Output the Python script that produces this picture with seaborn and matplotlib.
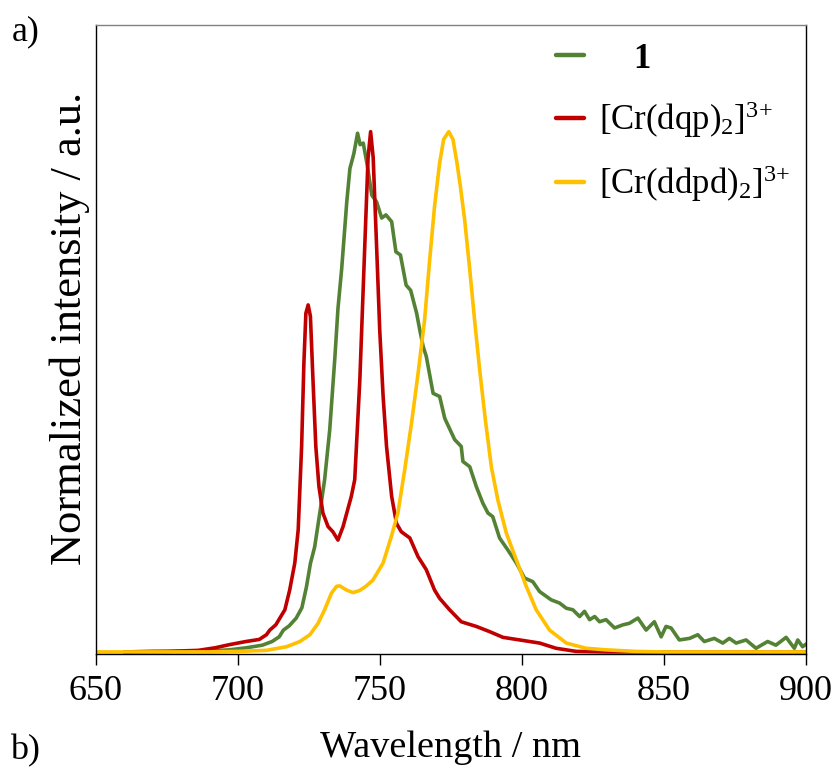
import numpy as np
import pandas as pd
import matplotlib
matplotlib.use("Agg")
import matplotlib.pyplot as plt
import seaborn as sns

# ---- data ----
wl_1 = [660, 670, 680, 690, 696.9, 703, 708.6, 712, 714.5, 716, 718, 720.5, 722.5, 724.1,
        725.5, 727.0, 728.8, 730.5, 732.3, 734.1, 735.2, 736.5, 738.3, 739.4, 740.8, 742.1,
        743.0, 744.1, 745.5, 747.1, 748.8, 750.6, 752.1, 754.1, 755.6, 757.2, 759.2, 760.8,
        762.9, 764.0, 765.2, 766.3, 768.7, 771.0, 772.8, 776.3, 778.6, 779.2, 781.6, 783.9,
        786.2, 788.0, 789.7, 792.1, 795.0, 798.0, 800.9, 803.8, 806.2, 810.3, 813.2, 815.6,
        817.9, 820.3, 822.0, 823.8, 825.6, 827.3, 829.6, 832.6, 835.5, 837.8, 840.8, 843.7,
        846.6, 849.0, 850.7, 852.5, 855.4, 859.0, 861.9, 864.2, 867.7, 870.7, 873.0, 875.4,
        878.9, 882.4, 886.5, 889.4, 893.0, 895.9, 897.1, 898.8, 900]
int_1 = [0, 0.001, 0.001, 0.002, 0.004, 0.008, 0.013, 0.02, 0.029, 0.042, 0.05, 0.065, 0.085, 0.125,
         0.17, 0.202, 0.267, 0.331, 0.427, 0.565, 0.66, 0.736, 0.865, 0.929, 0.958, 0.997,
         0.975, 0.978, 0.936, 0.878, 0.865, 0.834, 0.840, 0.827, 0.769, 0.763, 0.705, 0.695,
         0.651, 0.619, 0.587, 0.568, 0.497, 0.491, 0.449, 0.408, 0.395, 0.366, 0.356, 0.318,
         0.286, 0.267, 0.260, 0.219, 0.196, 0.171, 0.142, 0.135, 0.116, 0.100, 0.094, 0.084,
         0.081, 0.068, 0.078, 0.062, 0.068, 0.058, 0.062, 0.046, 0.052, 0.055, 0.065, 0.042,
         0.058, 0.029, 0.049, 0.046, 0.023, 0.026, 0.033, 0.020, 0.026, 0.017, 0.026, 0.017,
         0.023, 0.007, 0.020, 0.013, 0.028, 0.007, 0.023, 0.010, 0.015]

wl_dqp = [660, 675, 686, 692, 697, 702.8, 707.5, 710, 711.2, 713.3, 716.5, 718.2, 720.0, 721.2,
          722.4, 723.2, 723.9, 724.7, 725.5, 726.4, 727.4, 728.5, 729.9, 731.7, 733.4, 735.2,
          737.0, 739.9, 741.1, 742.9, 744.5, 745.8, 746.7, 747.6, 748.8, 749.9, 751.1, 752.3,
          754.1, 755.8, 757.5, 760.5, 763.4, 766.3, 769.2, 771.0, 774.5, 778.6, 783.9, 788.6,
          793.3, 799.2, 806.2, 812.0, 819.1, 830, 900]
int_dqp = [0, 0.001, 0.003, 0.008, 0.014, 0.020, 0.024, 0.033, 0.042, 0.052, 0.081, 0.119, 0.171, 0.235,
           0.395, 0.555, 0.651, 0.667, 0.645, 0.523, 0.395, 0.318, 0.267, 0.241, 0.231, 0.215,
           0.241, 0.299, 0.331, 0.523, 0.76, 0.95, 1.0, 0.95, 0.78, 0.619, 0.491, 0.395,
           0.299, 0.247, 0.231, 0.219, 0.183, 0.158, 0.119, 0.103, 0.081, 0.058, 0.049, 0.039,
           0.028, 0.023, 0.017, 0.007, 0.001, 0, 0]

wl_ddpd = [650, 690, 700, 710, 717.1, 721.8, 725.3, 728.2, 730.5, 732.9, 734.7, 735.8, 738.2,
           740.5, 742.8, 745, 747.5, 751.1, 754.0, 756.3, 758.7, 761.1, 763.4, 765.7, 767.5,
           769.2, 771.0, 772.4, 774.2, 775.7, 777.1, 778.3, 779.8, 781.6, 783.3, 785.1, 787.1,
           789.2, 791.5, 794.5, 798.0, 801.5, 805.0, 809.7, 815.6, 822.6, 829.6, 840, 850, 900]
int_ddpd = [0, 0.0, 0.001, 0.003, 0.010, 0.020, 0.033, 0.055, 0.081, 0.113, 0.126, 0.127, 0.119,
            0.114, 0.118, 0.126, 0.138, 0.171, 0.222, 0.267, 0.350, 0.440, 0.535, 0.638, 0.754,
            0.856, 0.940, 0.985, 1.0, 0.985, 0.940, 0.895, 0.831, 0.735, 0.638, 0.542, 0.446,
            0.356, 0.292, 0.228, 0.177, 0.126, 0.081, 0.042, 0.017, 0.007, 0.004, 0.001, 0, 0]

labels = ["    1", r"[Cr(dqp)$_2$]$^{3\!+}$", r"[Cr(ddpd)$_2$]$^{3\!+}$"]
colors = ["#548235", "#C00000", "#FFC000"]
x_ticks = [650, 700, 750, 800, 850, 900]

# ---- style ----
sns.set_theme(style="white")
plt.rcParams["font.family"] = ["Liberation Serif", "DejaVu Serif"]
plt.rcParams["mathtext.fontset"] = "custom"
plt.rcParams["mathtext.rm"] = "Liberation Serif"
plt.rcParams["mathtext.it"] = "Liberation Serif:italic"
plt.rcParams["mathtext.bf"] = "Liberation Serif:bold"
plt.rcParams["text.color"] = "black"
plt.rcParams["axes.labelcolor"] = "black"
plt.rcParams["xtick.color"] = "black"
plt.rcParams["ytick.color"] = "black"

fig = plt.figure(figsize=(8.39, 7.71), dpi=100)
ax = fig.add_axes([96 / 839, 1 - 654 / 771, 710 / 839, 629 / 771])

series = [(wl_1, int_1), (wl_dqp, int_dqp), (wl_ddpd, int_ddpd)]
for (wx, wy), lab, col in zip(series, labels, colors):
    df = pd.DataFrame({"wl": wx, "I": wy})
    sns.lineplot(data=df, x="wl", y="I", ax=ax, color=col, lw=2.6, label=lab,
                 solid_joinstyle="round", solid_capstyle="round")

ax.set_xlim(650, 900)
ax.set_ylim(-0.004, 1.205)
ax.set_xticks(x_ticks)
ax.set_xticklabels([str(t) for t in x_ticks])
ax.set_yticks([])
ax.tick_params(axis="x", direction="out", length=8, width=1, color="black",
               labelsize=26, pad=7, bottom=True, labelcolor="black")
ax.set_xlabel("Wavelength / nm", fontsize=27.5, labelpad=16)
ax.set_ylabel("Normalized intensity / a.u.", fontsize=32)
ax.yaxis.set_label_coords(-0.009, 0.518)

for s in ["left", "right", "bottom"]:
    ax.spines[s].set_color("black")
    ax.spines[s].set_linewidth(1.0)
ax.spines["top"].set_color("#808080")
ax.spines["top"].set_linewidth(1.0)

leg = ax.legend(loc="upper left", bbox_to_anchor=(0.648, 0.972), frameon=False,
                fontsize=25, handlelength=0.8, handletextpad=0.45, labelspacing=0.68,
                borderpad=0, borderaxespad=0)
leg.get_texts()[0].set_fontweight("bold")
for t in leg.get_texts():
    t.set_color("black")
for h in leg.legend_handles:
    h.set_linewidth(3.2)

fig.text(12 / 839, 1 - 32 / 771, "a)", fontsize=26, va="center", ha="left")
fig.text(10 / 839, 1 - 751 / 771, "b)", fontsize=26, va="center", ha="left")

fig.savefig("out.png", dpi=100)
